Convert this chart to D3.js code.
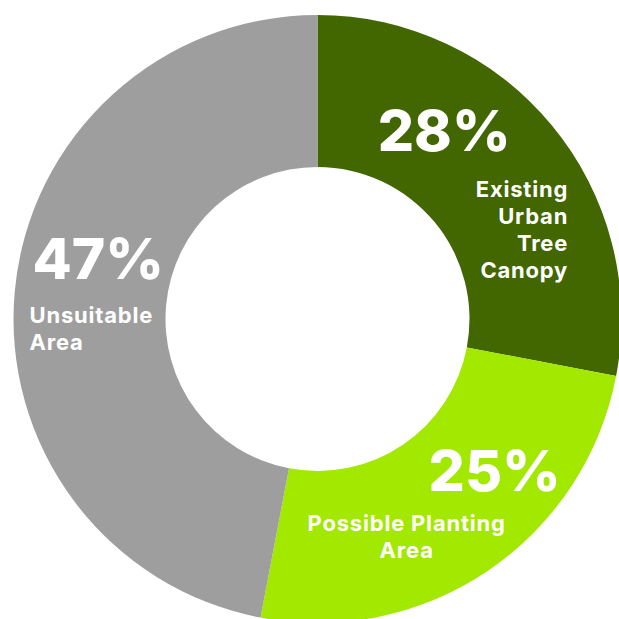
<!DOCTYPE html>
<html>
<head>
<meta charset="utf-8">
<script src="https://cdn.jsdelivr.net/npm/d3@7"></script>
<style>
  html, body { margin: 0; padding: 0; background: #fff; }
  svg { display: block; }
</style>
</head>
<body>
<div id="chart"></div>
<script>
// Data
const categories = ["Existing Urban Tree Canopy", "Possible Planting Area", "Unsuitable Area"];
const values = [28, 25, 47];
const labelLines = [["Existing", "Urban", "Tree", "Canopy"], ["Possible Planting", "Area"], ["Unsuitable", "Area"]];
const colors = ["#426600", "#a2e800", "#9e9e9e"];

// Label placement, relative to each slice centroid
const layout = [
  { numAnchor: "middle", ndx: -49, ndy: -23, labAnchor: "end", ldx: 75, ldy: 23 },
  { numAnchor: "middle", ndx: 49, ndy: -17, labAnchor: "middle", ldx: -39, ldy: 23 },
  { numAnchor: "start", ndx: -58, ndy: -19, labAnchor: "start", ldx: -61, ldy: 25 }
];

const width = 619;
const height = 619;
const cx = 317.5, cy = 319;
const outerR = 304, innerR = 152;

const svg = d3.select("#chart")
  .append("svg")
  .attr("width", width)
  .attr("height", height);

const g = svg.append("g")
  .attr("transform", `translate(${cx}, ${cy})`);

const pie = d3.pie()
  .value(d => d)
  .sort(null);

const arc = d3.arc()
  .innerRadius(innerR)
  .outerRadius(outerR);

const arcs = pie(values);

g.selectAll(".slice")
  .data(arcs)
  .enter()
  .append("path")
  .attr("class", "slice")
  .attr("d", arc)
  .attr("fill", (d, i) => colors[i]);

// Percentages
g.selectAll(".num")
  .data(arcs)
  .enter()
  .append("text")
  .attr("class", "num")
  .attr("x", (d, i) => arc.centroid(d)[0] + layout[i].ndx)
  .attr("y", (d, i) => arc.centroid(d)[1] + layout[i].ndy)
  .attr("text-anchor", (d, i) => layout[i].numAnchor)
  .style("font-family", "Inter, 'Open Sans', sans-serif")
  .style("font-weight", "800")
  .style("font-size", "57px")
  .style("fill", "#fff")
  .text(d => d.data + "%");

// Category labels
const labels = g.selectAll(".label")
  .data(arcs)
  .enter()
  .append("text")
  .attr("class", "label")
  .attr("text-anchor", (d, i) => layout[i].labAnchor)
  .style("font-family", "Inter, 'Open Sans', sans-serif")
  .style("font-weight", "700")
  .style("font-size", "22px")
  .style("letter-spacing", "0.8px")
  .style("fill", "#fff");

labels.each(function (d, i) {
  const [x, y] = arc.centroid(d);
  d3.select(this).selectAll("tspan")
    .data(labelLines[i])
    .enter()
    .append("tspan")
    .attr("x", x + layout[i].ldx)
    .attr("y", (t, j) => y + layout[i].ldy + j * 27)
    .text(t => t);
});
</script>
</body>
</html>
